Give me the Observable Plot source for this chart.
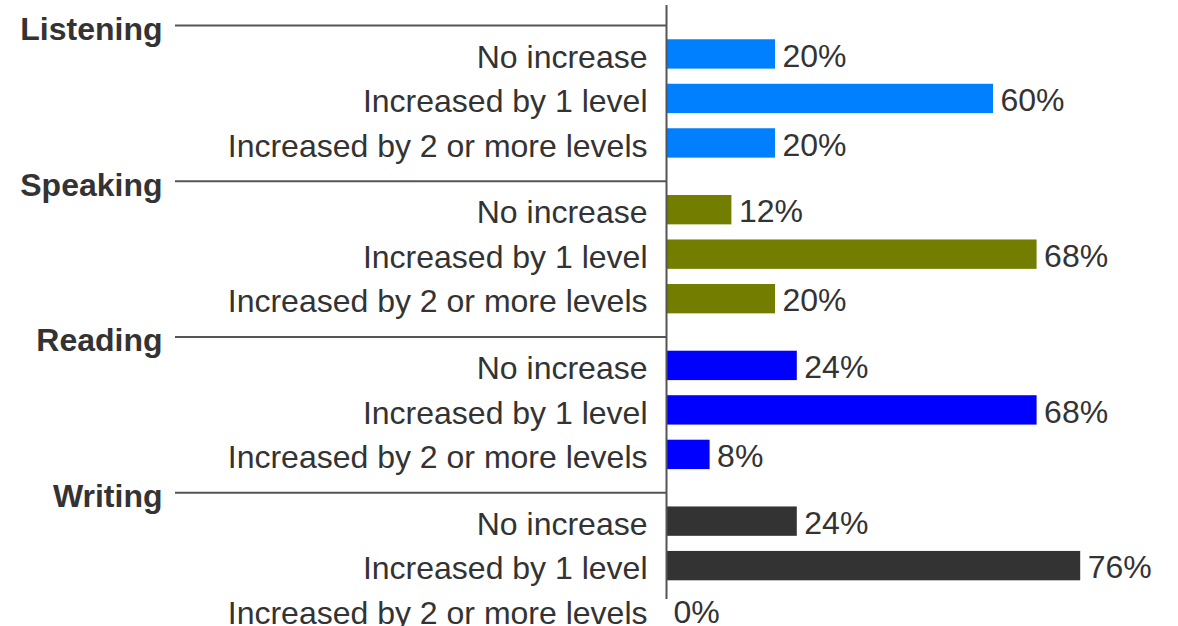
<!DOCTYPE html>
<html>
<head>
<meta charset="utf-8">
<script src="https://cdn.jsdelivr.net/npm/d3@7"></script>
<script src="https://cdn.jsdelivr.net/npm/@observablehq/plot@0.6"></script>
<style>
  html, body { margin: 0; padding: 0; background: #fff; }
</style>
</head>
<body>
<div id="chart"></div>
<script>
const groups = ["Listening", "Speaking", "Reading", "Writing"];
const categories = ["No increase", "Increased by 1 level", "Increased by 2 or more levels"];
const listening = [20, 60, 20];
const speaking = [12, 68, 20];
const reading = [24, 68, 8];
const writing = [24, 76, 0];
const groupColors = ["#0080ff", "#737d00", "#0000ff", "#333333"];

const series = [listening, speaking, reading, writing];
const rows = groups.flatMap((g, gi) =>
  categories.map((c, ci) => ({ group: g, category: c, value: series[gi][ci], pos: gi * 3.5 + ci }))
);
const headers = groups.map((g, gi) => ({ group: g, pos: gi * 3.5 - 0.65 }));

const chart = Plot.plot({
  width: 1178,
  height: 626,
  marginLeft: 666,
  marginRight: 76,
  marginTop: 5,
  marginBottom: 27,
  x: { domain: [0, 80], axis: null },
  y: { domain: [-1.1, 12.25], reverse: true, axis: null },
  color: { domain: groups, range: groupColors },
  style: { fontFamily: "'Liberation Sans', Arial, sans-serif", fontSize: "32px", color: "#333", background: "#fff" },
  marks: [
    Plot.rectX(rows, { x1: 0, x2: "value", y1: d => d.pos - 0.33, y2: d => d.pos + 0.33, fill: "group" }),
    Plot.ruleY(headers, { y: "pos", x1: 0, x2: 0, insetLeft: -491, stroke: "#555", strokeWidth: 2 }),
    Plot.ruleX([0], { stroke: "#555", strokeWidth: 2 }),
    Plot.text(rows, { x: 0, y: "pos", text: "category", textAnchor: "end", dx: -19, dy: 3, fill: "#333", fontSize: 32 }),
    Plot.text(headers, { x: 0, y: "pos", text: "group", textAnchor: "end", dx: -504, dy: 4, fill: "#333", fontSize: 32, fontWeight: "bold" }),
    Plot.text(rows, { x: "value", y: "pos", text: d => d.value + "%", textAnchor: "start", dx: 7, dy: 2, fill: "#333", fontSize: 32 })
  ]
});
document.getElementById("chart").appendChild(chart);
</script>
</body>
</html>
